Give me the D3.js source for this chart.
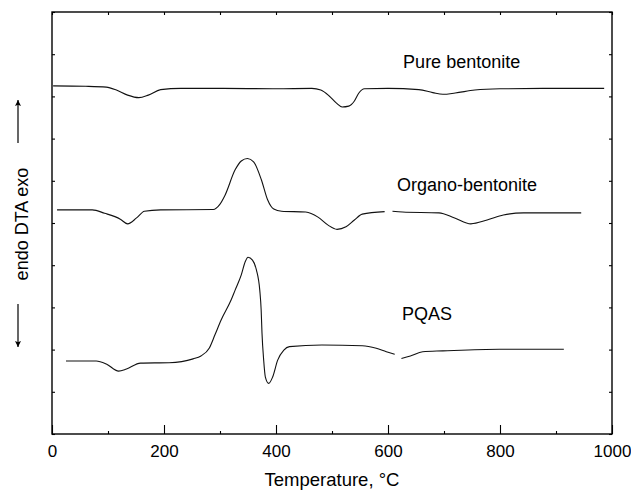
<!DOCTYPE html>
<html>
<head>
<meta charset="utf-8">
<script src="https://cdn.jsdelivr.net/npm/d3@7"></script>
<style>
  body { margin: 0; background: #fff; }
  text { font-family: "Liberation Sans", Arial, sans-serif; fill: #000; }
</style>
</head>
<body>
<div id="chart"></div>
<script>
// DTA curves, temperature in °C, signal in arbitrary units (one y tick = 1 unit)
var pureT = [2, 60, 97, 115, 135, 155, 172, 194, 230, 300, 400, 464, 480, 495, 508, 518, 530, 540, 548, 558, 600, 655, 680, 698, 720, 755, 800, 900, 986];
var pureV = [8.25, 8.24, 8.22, 8.15, 8.03, 7.97, 8.03, 8.16, 8.19, 8.19, 8.18, 8.19, 8.15, 8.01, 7.84, 7.75, 7.77, 7.89, 8.08, 8.18, 8.19, 8.16, 8.09, 8.05, 8.08, 8.15, 8.18, 8.19, 8.19];

var organoT1 = [9, 72, 94, 122, 135, 151, 165, 194, 288, 299, 309, 327, 338, 349, 360, 374, 385, 396, 410, 453, 475, 493, 509, 525, 540, 554, 594];
var organoV1 = [5.31, 5.31, 5.23, 5.09, 4.98, 5.12, 5.28, 5.31, 5.32, 5.43, 5.66, 6.26, 6.47, 6.53, 6.45, 6.02, 5.55, 5.33, 5.28, 5.26, 5.14, 4.95, 4.85, 4.91, 5.07, 5.21, 5.27];
var organoT2 = [608, 626, 691, 719, 748, 777, 806, 842, 945];
var organoV2 = [5.28, 5.26, 5.24, 5.12, 4.98, 5.07, 5.19, 5.24, 5.24];

var pqasT1 = [25, 79, 97, 119, 133, 158, 209, 252, 266, 281, 291, 302, 320, 327, 338, 345, 350, 358, 365, 371, 373.5, 375, 378, 381, 387, 394, 403, 414, 424, 482, 554, 579, 597, 612];
var pqasV1 = [1.73, 1.73, 1.66, 1.49, 1.54, 1.68, 1.69, 1.78, 1.85, 2.04, 2.35, 2.70, 3.18, 3.41, 3.77, 4.08, 4.19, 4.12, 3.89, 3.41, 2.94, 2.39, 1.75, 1.35, 1.20, 1.35, 1.75, 1.99, 2.07, 2.11, 2.09, 2.03, 1.95, 1.89];
var pqasT2 = [624, 640, 662, 698, 799, 914];
var pqasV2 = [1.79, 1.85, 1.95, 1.97, 2.01, 2.01];

var xLabelTicks = [0, 200, 400, 600, 800, 1000];
var xMinorTicks = [100, 300, 500, 700, 900];
var xTopTicks = d3.range(0, 1001, 100);
var yTicks = d3.range(0, 11, 1);

var labels = [
  { text: 'Pure bentonite', t: 627, v: 8.67 },
  { text: 'Organo-bentonite', t: 616, v: 5.76 },
  { text: 'PQAS', t: 625, v: 2.70 }
];

const W = 631, H = 490;
const margin = { top: 12, right: 19, bottom: 56, left: 52 };

var svg = d3.select('#chart').append('svg')
  .attr('width', W)
  .attr('height', H);

var x = d3.scaleLinear().domain([0, 1000]).range([margin.left, W - margin.right]);
var y = d3.scaleLinear().domain([0, 10]).range([H - margin.bottom, margin.top]);

function series(ts, vs) {
  return ts.map((t, i) => [t, vs[i]]);
}

var line = d3.line()
  .x((d) => x(d[0]))
  .y((d) => y(d[1]))
  .curve(d3.curveMonotoneX);

var curves = [
  series(pureT, pureV),
  series(organoT1, organoV1),
  series(organoT2, organoV2),
  series(pqasT1, pqasV1),
  series(pqasT2, pqasV2)
];

svg.selectAll('path.curve')
  .data(curves)
  .enter()
  .append('path')
  .attr('class', 'curve')
  .attr('d', line)
  .attr('fill', 'none')
  .attr('stroke', '#111')
  .attr('stroke-width', 1.1);

// axes, ticks pointing inward
var bottom = svg.append('g')
  .attr('transform', `translate(0,${y(0)})`)
  .call(d3.axisBottom(x).tickValues(xLabelTicks).tickFormat(d3.format('d'))
    .tickSizeInner(-9).tickSizeOuter(0).tickPadding(11));
svg.append('g')
  .attr('transform', `translate(0,${y(0)})`)
  .call(d3.axisBottom(x).tickValues(xMinorTicks).tickSize(-3).tickFormat(''));
svg.append('g')
  .attr('transform', `translate(0,${y(10)})`)
  .call(d3.axisTop(x).tickValues(xTopTicks).tickSize(-3).tickFormat(''));
svg.append('g')
  .attr('transform', `translate(${x(0)},0)`)
  .call(d3.axisLeft(y).tickValues(yTicks).tickSize(-3).tickFormat(''));
svg.append('g')
  .attr('transform', `translate(${x(1000)},0)`)
  .call(d3.axisRight(y).tickValues(yTicks).tickSize(-3).tickFormat(''));

svg.selectAll('.domain').remove();
svg.selectAll('.tick line').attr('stroke', '#000').attr('stroke-width', 1.1);
bottom.selectAll('text')
  .style('font-size', '17px')
  .style('font-family', '"Liberation Sans", Arial, sans-serif')
  .attr('fill', '#000');

svg.append('rect')
  .attr('x', x(0))
  .attr('y', y(10))
  .attr('width', x(1000) - x(0))
  .attr('height', y(0) - y(10))
  .attr('fill', 'none')
  .attr('stroke', '#000')
  .attr('stroke-width', 1.4);

svg.selectAll('text.lbl')
  .data(labels)
  .enter()
  .append('text')
  .attr('class', 'lbl')
  .attr('x', (d) => x(d.t))
  .attr('y', (d) => y(d.v))
  .style('font-size', '18px')
  .text((d) => d.text);

svg.append('text')
  .attr('x', 332)
  .attr('y', 486)
  .attr('text-anchor', 'middle')
  .style('font-size', '18.5px')
  .text('Temperature, \u00B0C');

// y label with arrows
svg.append('text')
  .attr('transform', 'translate(28,224) rotate(-90)')
  .attr('text-anchor', 'middle')
  .style('font-size', '18px')
  .text('endo DTA exo');

var defs = svg.append('defs');
defs.append('marker')
  .attr('id', 'head')
  .attr('viewBox', '0 0 10 10')
  .attr('refX', 10)
  .attr('refY', 5)
  .attr('markerWidth', 12)
  .attr('markerHeight', 6)
  .attr('markerUnits', 'userSpaceOnUse')
  .attr('orient', 'auto')
  .append('path')
  .attr('d', 'M0,0 L10,5 L0,10 L2,5 Z')
  .attr('fill', '#000');

svg.append('line')
  .attr('x1', 18).attr('x2', 18)
  .attr('y1', 143).attr('y2', 100)
  .attr('stroke', '#000').attr('stroke-width', 1.2)
  .attr('marker-end', 'url(#head)');
svg.append('line')
  .attr('x1', 18).attr('x2', 18)
  .attr('y1', 304).attr('y2', 347)
  .attr('stroke', '#000').attr('stroke-width', 1.2)
  .attr('marker-end', 'url(#head)');
</script>
</body>
</html>
